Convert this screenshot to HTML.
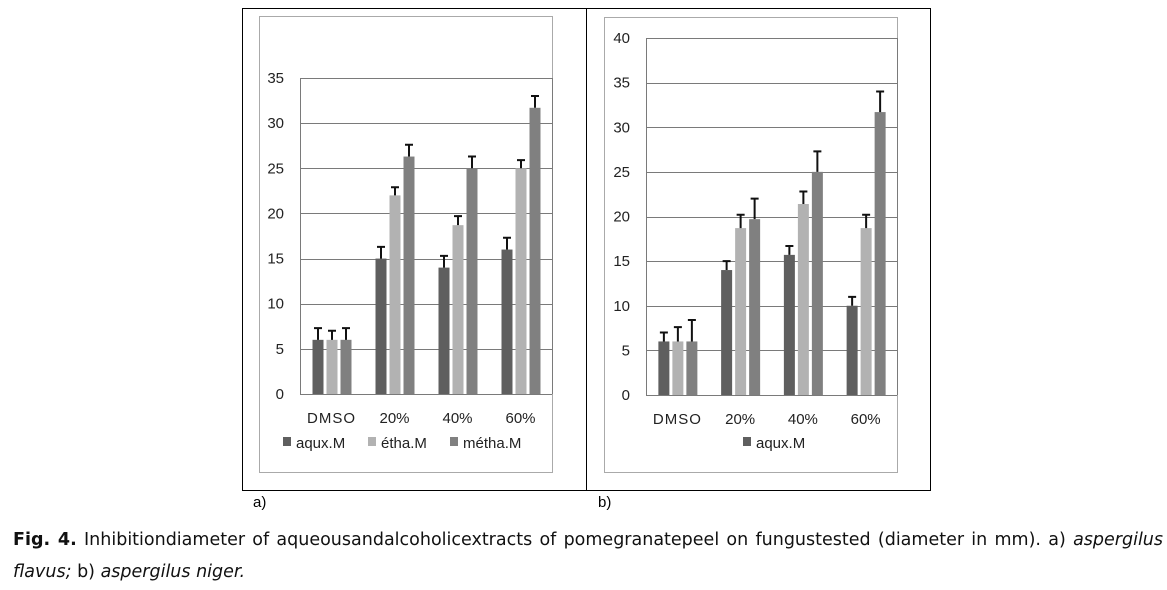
<!DOCTYPE html>
<html><head><meta charset="utf-8"><style>
body{margin:0;background:#fff;width:1167px;height:590px;overflow:hidden;position:relative;font-family:"DejaVu Sans","Liberation Sans",sans-serif}
.cap{position:absolute;left:13px;width:1150px;font-size:17.5px;color:#111;white-space:nowrap}
</style></head><body>
<svg id="svg" width="1167" height="590" style="position:absolute;left:0;top:0" font-family="Liberation Sans, sans-serif">
<rect x="242.5" y="8.5" width="688" height="482" fill="none" stroke="#000" stroke-width="1"/>
<line x1="586.5" y1="8" x2="586.5" y2="491" stroke="#000"/>
<text x="253" y="507" font-size="15">a)</text>
<text x="598" y="507" font-size="15">b)</text>
</svg>
<div class="cap" style="top:530px;text-align:justify;text-align-last:justify"><b>Fig. 4.</b> Inhibitiondiameter of aqueousandalcoholicextracts of pomegranatepeel on fungustested (diameter in mm). a) <i>aspergilus</i></div>
<div class="cap" style="top:562px"><i>flavus;</i> b) <i>aspergilus niger.</i></div>
<script>
const categories=["DMSO","20%","40%","60%"];
const seriesNames=["aqux.M","étha.M","métha.M"];
const aAqux=[6,15,14,16];
const aEtha=[6,22,18.7,25];
const aMetha=[6,26.3,25,31.7];
const aAquxErr=[1.3,1.3,1.3,1.3];
const aEthaErr=[1,0.9,1,0.9];
const aMethaErr=[1.3,1.3,1.3,1.3];
const bAqux=[6,14,15.7,10];
const bEtha=[6,18.7,21.4,18.7];
const bMetha=[6,19.7,25,31.7];
const bAquxErr=[1,1,1,1];
const bEthaErr=[1.6,1.5,1.4,1.5];
const bMethaErr=[2.4,2.3,2.3,2.3];
const aTicks=[0,5,10,15,20,25,30,35];
const bTicks=[0,5,10,15,20,25,30,35,40];
const colors=["#5f5f5f","#b2b2b2","#808080"];
const NS="http://www.w3.org/2000/svg";
const svg=document.getElementById("svg");
function mk(tag,attrs,parent){const e=document.createElementNS(NS,tag);for(const k in attrs)e.setAttribute(k,attrs[k]);(parent||svg).appendChild(e);return e;}
function chart(cfg){
  const g=mk("g",{});
  
  
  const bd=mk("rect",{x:cfg.bx+.5,y:cfg.by+.5,width:cfg.bw,height:cfg.bh,fill:"none",stroke:"#aaa"},g);
  
  
  const y=v=>cfg.y0-(v/cfg.max)*(cfg.y0-cfg.yTop);
  const x=i=>cfg.px+(i+0.5)*(cfg.pw/categories.length);
  cfg.ticks.forEach(t=>{
    const l=mk("line",{x1:cfg.px,x2:cfg.px+cfg.pw,y1:Math.round(y(t))+.5,y2:Math.round(y(t))+.5,stroke:"#7a7a7a","stroke-width":1},g);
    
    
    const tx=mk("text",{x:cfg.px-16,y:y(t)+5,"font-size":15,"text-anchor":"end",fill:"#222"},g);
    
    
    tx.textContent=t;
  });
  const ax=mk("line",{x1:cfg.px+.5,x2:cfg.px+.5,y1:y(cfg.max),y2:y(0),stroke:"#7a7a7a"},g);
  
  
  const rx=mk("line",{x1:cfg.px+cfg.pw+.5,x2:cfg.px+cfg.pw+.5,y1:y(cfg.max),y2:y(0),stroke:"#7a7a7a"},g);
  
  
  const bw=11,offs=[-19,-5,9];
  cfg.series.forEach((s,si)=>{
    s.forEach((v,i)=>{
      const bx=x(i)+offs[si];
      const r=mk("rect",{x:bx,y:y(v),width:bw,height:y(0)-y(v),fill:colors[si]},g);
      
      
      const top=y(v+cfg.errs[si][i]),cx=bx+bw/2;
      const e=mk("path",{d:`M${cx},${y(v)}V${top}M${cx-4},${top}H${cx+4}`,stroke:"#111","stroke-width":2,fill:"none"},g);
      
      
    });
  });
  categories.forEach((c,i)=>{
    const t=mk("text",{x:x(i),y:cfg.catY,"font-size":15,"text-anchor":"middle",fill:"#222","letter-spacing":c==="DMSO"?"1":"0"},g);
    
    
    t.textContent=c;
  });
  cfg.legend.forEach(L=>{
    const sq=mk("rect",{x:L.x,y:cfg.legY-11,width:8,height:9,fill:colors[L.s]},g);
    
    
    const t=mk("text",{x:L.x+13,y:cfg.legY,"font-size":15,fill:"#222"},g);
    
    
    t.textContent=seriesNames[L.s];
  });
}
chart({name:"chart-a",bx:259,by:16,bw:293,bh:456,px:300,pw:252,y0:394,yTop:78,max:35,ticks:aTicks,
  series:[aAqux,aEtha,aMetha],errs:[aAquxErr,aEthaErr,aMethaErr],catY:423,legY:448,
  legend:[{x:283,s:0},{x:368,s:1},{x:450,s:2}]});
chart({name:"chart-b",bx:604,by:17,bw:293,bh:455,px:646,pw:251,y0:395,yTop:38,max:40,ticks:bTicks,
  series:[bAqux,bEtha,bMetha],errs:[bAquxErr,bEthaErr,bMethaErr],catY:424,legY:448,
  legend:[{x:743,s:0}]});
</script>
</body></html>
